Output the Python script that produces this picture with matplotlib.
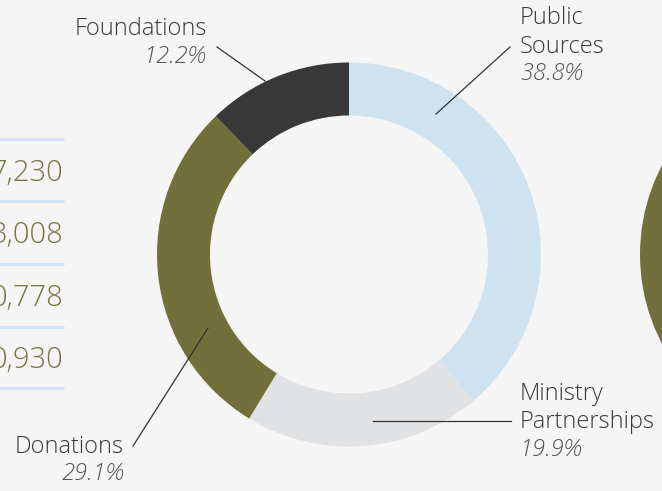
import matplotlib.pyplot as plt
from matplotlib.patches import Wedge

# revenue breakdown, clockwise from the top
sources = ['Public\nSources', 'Ministry\nPartnerships', 'Donations', 'Foundations']
shares = [38.8, 19.9, 29.1, 12.2]
colors = ['#cfe2f0', '#e1e2e3', '#736f3a', '#383838']

# right-hand column of the (cut off) table on the left
table_values = ['7,230', '3,008', '0,778', '0,930']

BG = '#f4f5f4'
TXT = '#3a3a3a'
FONT = ['Open Sans', 'DejaVu Sans']

fig = plt.figure(figsize=(6.62, 4.91), dpi=100, facecolor=BG)
ax = fig.add_axes([0, 0, 1, 1])
ax.set_facecolor(BG)

cx, cy, r = 349, 254.5, 192
ax.pie(shares, colors=colors, center=(cx, cy), radius=r,
       startangle=-90, counterclock=True,
       wedgeprops=dict(width=53, linewidth=0))

# edge of the next donut peeking in at the right
ax.add_patch(Wedge((832, 254.5), r, 140, 220, width=53,
                   facecolor='#736f3a', linewidth=0))

ax.set_xlim(0, 662)
ax.set_ylim(491, 0)
ax.axis('off')

# table rules + numbers
rule_y = [139, 201, 264, 327, 388]
for y in rule_y:
    ax.plot([-5, 64], [y, y], color='#d3e3f1', lw=2.2, solid_capstyle='butt')
for i, val in enumerate(table_values):
    ymid = (rule_y[i] + rule_y[i + 1]) / 2 + 3
    ax.text(63, ymid, val, ha='right', va='center', fontsize=21,
            color='#7a7545', family=FONT, fontweight='light')

# labels: (text anchor x, first line y, alignment, leader line)
label_pos = [
    (520, 18, 'left', [(510, 47), (436, 114)]),
    (520, 394, 'left', [(511, 421), (373, 421)]),
    (124, 447, 'right', [(133, 446), (208, 328)]),
    (207, 29, 'right', [(217, 47), (265, 81)]),
]
step = 28.5
for name, pct, (x, y, ha, line) in zip(sources, shares, label_pos):
    lines = name.split('\n')
    for k, t in enumerate(lines):
        ax.text(x, y + k * step, t, ha=ha, va='center', fontsize=17,
                color=TXT, family=FONT, fontweight='light')
    ax.text(x, y + len(lines) * step - 1, f'{pct}%', ha=ha, va='center',
            fontsize=17, color='#555555', family=FONT, fontweight='light',
            style='italic')
    (x0, y0), (x1, y1) = line
    ax.plot([x0, x1], [y0, y1], color='#333333', lw=0.9)

fig.savefig('out.png', dpi=100, facecolor=BG)
